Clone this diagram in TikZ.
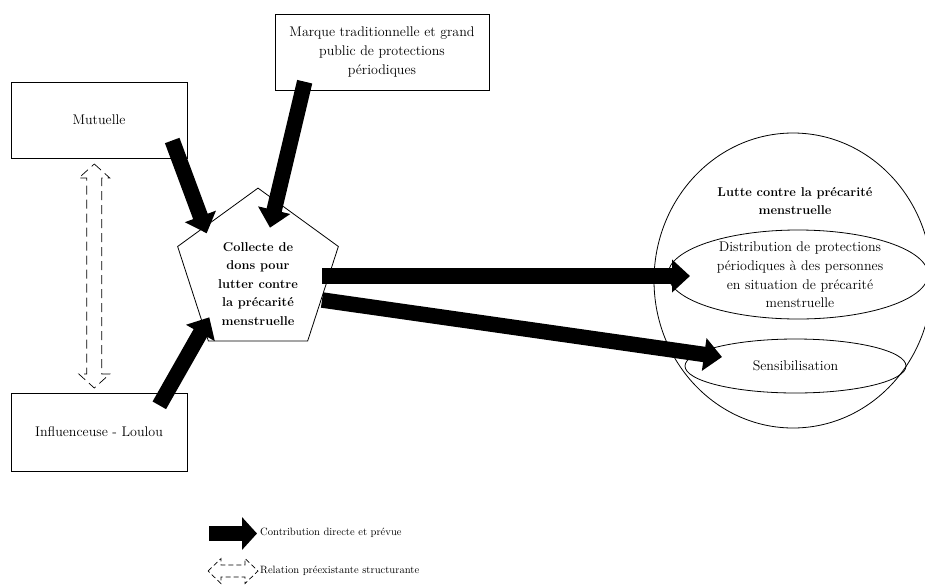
\documentclass[tikz,border=0pt]{standalone}
\usetikzlibrary{shapes.geometric,arrows.meta,calc}
\begin{document}
\begin{tikzpicture}[x=1pt,y=-1pt,
  box/.style={draw, line width=0.8pt, inner sep=0pt, outer sep=0pt},
  txt/.style={font=\fontsize{14}{18.7}\selectfont, align=center, inner sep=0pt},
  btxt/.style={font=\fontsize{12.8}{18.5}\selectfont\bfseries, align=center, inner sep=0pt},
  ltxt/.style={font=\fontsize{10.6}{13}\selectfont, anchor=west, inner sep=0pt},
  oval/.style={draw, ellipse, line width=0.8pt, inner sep=0pt, outer sep=0pt},
  bigarrow/.style={line width=15.5pt, -{Triangle[width=32pt,length=18pt]}},
  dashbox/.style={draw, line width=0.7pt, dash pattern=on 9pt off 5pt}
]
\useasboundingbox (0,0) rectangle (925,584);
\clip (0,0) rectangle (925,584);

% boxes
\node[box, txt, minimum width=176pt, minimum height=76pt] (mut) at (99,120) {Mutuelle};
\node[box, txt, minimum width=214pt, minimum height=76pt] (marque) at (382,52) {Marque traditionnelle et grand\\ public de protections\\ périodiques};
\node[box, txt, minimum width=176pt, minimum height=78pt] (infl) at (99,432) {Influenceuse - Loulou};

% pentagon
\node[draw, regular polygon, regular polygon sides=5, minimum size=169pt, inner sep=0pt, outer sep=0pt, line width=0.8pt] (pent) at (258,272.6) {};
\node[btxt] (pentxt) at (258,284) {Collecte de\\ dons pour\\ lutter contre\\ la précarité\\ menstruelle};

% right side
\node[oval, minimum width=278pt, minimum height=295pt] (lutte) at (793,280.5) {};
\node[btxt] (luttetxt) at (795,201) {Lutte contre la précarité\\ menstruelle};
\node[oval, minimum width=260pt, minimum height=89pt] (distr) at (798,274.5) {};
\node[txt] (distrtxt) at (800,275) {Distribution de protections\\ périodiques à des personnes\\ en situation de précarité\\ menstruelle};
\node[oval, txt, minimum width=221pt, minimum height=54pt] (sens) at (795.5,366) {Sensibilisation};

% arrows
\coordinate (a1s) at (172.2,140.5); \coordinate (a1e) at (206.7,233.3);
\coordinate (a2s) at (304.7,81.7);  \coordinate (a2e) at (270,227.7);
\coordinate (a3s) at (159.3,405.3); \coordinate (a3e) at (209.3,317.3);
\coordinate (a4s) at (322,276);     \coordinate (a4e) at (690,276);
\coordinate (a5s) at (322,300);     \coordinate (a5e) at (722,357);
\draw[bigarrow] (a1s) -- (a1e);
\draw[bigarrow] (a2s) -- (a2e);
\draw[bigarrow] (a3s) -- (a3e);
\draw[bigarrow] (a4s) -- (a4e);
\draw[bigarrow] (a5s) -- (a5e);

% dashed double arrow
\coordinate (dT) at (94.3,164); \coordinate (dB) at (94.3,388);
\draw[dashbox] (dT) -- ++(15.5,14) -- ++(-8,0) -- ($(dB)+(7.5,-14)$) -- ++(8,0) -- (dB)
  -- ++(-15.5,-14) -- ++(8,0) -- ($(dT)+(-7.5,14)$) -- ++(-8,0) -- cycle;

% legend
\coordinate (l1s) at (209,533.5); \coordinate (l1e) at (257,533.5);
\draw[line width=15pt, -{Triangle[width=32pt,length=15pt]}] (l1s) -- (l1e);
\node[ltxt] (l1t) at (260,533) {Contribution directe et prévue};
\coordinate (l2L) at (208,571); \coordinate (l2R) at (258,571);
\draw[dashbox, dash pattern=on 5pt off 3pt] (l2L) -- ++(13,-12.5) -- ++(0,6.5) -- ($(l2R)+(-13,-6)$)
  -- ++(0,-6.5) -- (l2R) -- ++(-13,12.5) -- ++(0,-6.5) -- ($(l2L)+(13,6)$) -- ++(0,6.5) -- cycle;
\node[ltxt] (l2t) at (260,571) {Relation préexistante structurante};
\end{tikzpicture}
\end{document}
